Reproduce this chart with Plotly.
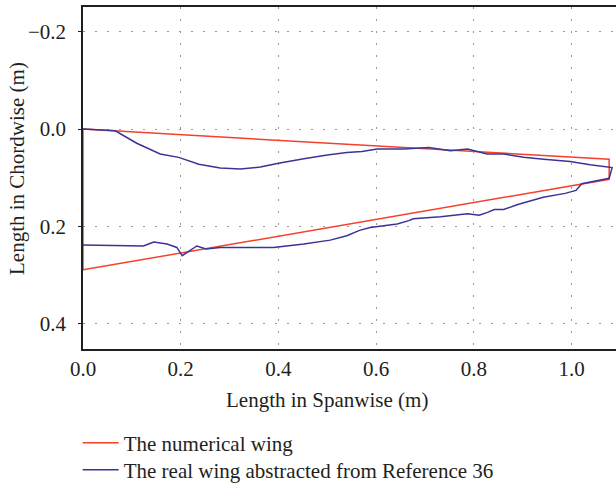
import plotly.graph_objects as go

# Numerical wing (planform outline)
num_x = [0.0, 1.077, 1.077, 0.0, 0.0]
num_y = [0.0, 0.062, 0.103, 0.289, 0.0]

# Real wing abstracted from Reference 36 (leading edge -> tip -> trailing edge)
real_x = [0.0, 0.066, 0.11, 0.158, 0.196, 0.237, 0.281, 0.322, 0.363, 0.40, 0.452,
          0.50, 0.54, 0.571, 0.602, 0.656, 0.708, 0.752, 0.787, 0.827, 0.861, 0.902,
          0.943, 0.997, 1.038, 1.078, 1.083,
          1.077, 1.021, 1.009, 0.987, 0.942, 0.89, 0.861, 0.842, 0.828, 0.811, 0.787,
          0.732, 0.676, 0.667, 0.643, 0.603, 0.588, 0.566, 0.54, 0.506, 0.452, 0.39,
          0.281, 0.252, 0.233, 0.203, 0.192, 0.172, 0.145, 0.134, 0.124, 0.0]
real_y = [0.0, 0.0035, 0.029, 0.051, 0.058, 0.072, 0.080, 0.082, 0.078, 0.070, 0.061,
          0.053, 0.048, 0.046, 0.041, 0.041, 0.038, 0.0445, 0.041, 0.051, 0.051, 0.058,
          0.062, 0.0665, 0.073, 0.077, 0.079,
          0.101, 0.112, 0.126, 0.132, 0.140, 0.155, 0.165, 0.165, 0.171, 0.177, 0.174,
          0.180, 0.184, 0.188, 0.195, 0.199, 0.202, 0.208, 0.219, 0.228, 0.236, 0.243,
          0.243, 0.246, 0.240, 0.260, 0.243, 0.236, 0.232, 0.236, 0.240, 0.238]

x_ticks = [0.0, 0.2, 0.4, 0.6, 0.8, 1.0]
x_tick_labels = ["0.0", "0.2", "0.4", "0.6", "0.8", "1.0"]
y_ticks = [-0.2, 0.0, 0.2, 0.4]
y_tick_labels = ["\u22120.2", "0.0", "0.2", "0.4"]

FONT = "Liberation Serif"
TXT = "#231F20"

fig = go.Figure()
fig.add_trace(go.Scatter(x=num_x, y=num_y, mode="lines", name="The numerical wing",
                         line=dict(color="#F5402C", width=1.5), legend="legend"))
fig.add_trace(go.Scatter(x=real_x, y=real_y, mode="lines",
                         name="The real wing abstracted from Reference 36",
                         line=dict(color="#3A3496", width=1.5), legend="legend2"))

leg_common = dict(xanchor="left", yanchor="middle",
                  font=dict(family=FONT, size=21, color=TXT),
                  bgcolor="rgba(0,0,0,0)", borderwidth=0, itemwidth=36)

fig.update_layout(
    width=616, height=488,
    margin=dict(l=83, r=0, t=7, b=139, autoexpand=False),
    plot_bgcolor="white", paper_bgcolor="white",
    font=dict(family=FONT, size=21, color=TXT),
    showlegend=True,
    legend=dict(x=-0.01, y=-0.275, **leg_common),
    legend2=dict(x=-0.01, y=-0.354, **leg_common),
    xaxis=dict(range=[0, 1.091], tickvals=x_ticks, ticktext=x_tick_labels,
               showgrid=True, gridcolor="#9a9a9a", griddash="2px,10px", gridwidth=1,
               zeroline=False, showline=True, linecolor="#231F20", linewidth=1.5,
               mirror=True, ticks="", ticklabelstandoff=0, layer="below traces",
               automargin=False),
    yaxis=dict(range=[0.4516, -0.2508], tickvals=y_ticks, ticktext=y_tick_labels,
               showgrid=True, gridcolor="#9a9a9a", griddash="2px,10px", gridwidth=1,
               zeroline=False, showline=True, linecolor="#231F20", linewidth=1.5,
               mirror=False, ticks="outside", ticklen=3, tickcolor="#231F20",
               ticklabelstandoff=8, layer="below traces", automargin=False),
    annotations=[
        dict(text="Length in Spanwise (m)", xref="paper", yref="paper",
             x=0.458, y=-0.149, xanchor="center", yanchor="middle", showarrow=False,
             font=dict(family=FONT, size=21, color=TXT)),
        dict(text="Length in Chordwise (m)", xref="paper", yref="paper",
             x=-0.124, y=0.529, xanchor="center", yanchor="middle", showarrow=False,
             textangle=-90, font=dict(family=FONT, size=21, color=TXT)),
    ],
)

fig.write_html("out.html", config={"displayModeBar": False},
               post_script="document.body.style.margin='0';document.body.style.overflow='hidden';")
